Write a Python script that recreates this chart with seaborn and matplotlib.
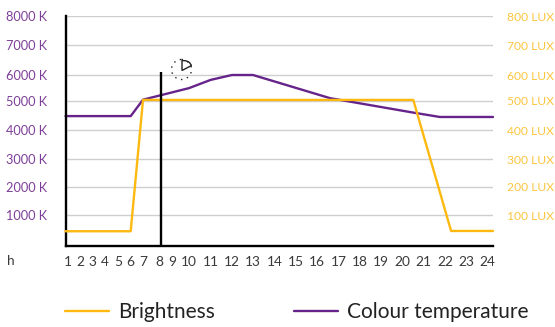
import numpy as np
import pandas as pd
import matplotlib
matplotlib.use('Agg')
import matplotlib.pyplot as plt
import seaborn as sns
from matplotlib.patches import Circle, Polygon
from matplotlib.transforms import Affine2D

# Values
hours = list(range(1, 25))
kelvin_ticks = [1000, 2000, 3000, 4000, 5000, 6000, 7000, 8000]
lux_ticks = [100, 200, 300, 400, 500, 600, 700, 800]

brightness_hours = [0.75, 6, 7, 20.52, 22.29, 24.3]
brightness_lux = [43, 43, 503, 503, 44, 44]

colour_hours = [0.75, 6, 7, 10, 11, 12, 13, 16.6, 20.5, 21.76, 24.3]
colour_kelvin = [4480, 4480, 5040, 5495, 5820, 6010, 6010, 5100, 4600, 4450, 4450]

now_hour = 8.14
now_top = 6100

W, H = 555, 327
LEFT, RIGHT, TOP, BOTTOM = 65.5, 493, 16.3, 246

# the source lays hours and gridlines out unevenly, so the axes follow that layout
x_anchor_hours = [0.75] + hours + [24.3]
x_anchor_px = [65.5, 68, 80, 92.7, 105, 118, 130.7, 143, 159.5, 172, 189, 210.7, 232, 253,
               275, 296, 317, 338.7, 360, 381, 402, 423.7, 445, 466, 487, 493]
y_anchor_px = [246, 243.5, 215, 186.7, 159, 130.3, 100.7, 75.3, 45.3, 16.3]
y_anchor_up = [BOTTOM - p for p in y_anchor_px]
kelvin_anchor = [-90, 0] + kelvin_ticks
lux_anchor = [-9, 0] + lux_ticks


def anchored(values, pixels):
    return (lambda v: np.interp(v, values, pixels),
            lambda p: np.interp(p, pixels, values))


YELLOW = '#fdb90f'
PURPLE = '#66248a'

sns.set_theme(style='white')
plt.rcParams['font.family'] = ['Lato', 'DejaVu Sans']

fig = plt.figure(figsize=(W / 100, H / 100), dpi=100)
ax = fig.add_axes([LEFT / W, 1 - BOTTOM / H, (RIGHT - LEFT) / W, (BOTTOM - TOP) / H])
ax2 = ax.twinx()

ax.set_xscale('function', functions=anchored(x_anchor_hours, x_anchor_px))
ax.set_yscale('function', functions=anchored(kelvin_anchor, y_anchor_up))
ax2.set_yscale('function', functions=anchored(lux_anchor, y_anchor_up))

colour_df = pd.DataFrame({'hour': colour_hours, 'kelvin': colour_kelvin})
brightness_df = pd.DataFrame({'hour': brightness_hours, 'lux': brightness_lux})
sns.lineplot(data=colour_df, x='hour', y='kelvin', ax=ax, color=PURPLE, lw=1.7,
             estimator=None, legend=False, clip_on=False)
sns.lineplot(data=brightness_df, x='hour', y='lux', ax=ax2, color=YELLOW, lw=1.7,
             estimator=None, legend=False, clip_on=False)
ax2.plot([now_hour, now_hour], [-9, now_top / 10], color='black', lw=1.7,
         solid_capstyle='butt', zorder=5)

ax.set_xlim(0.75, 24.3)
ax.set_ylim(-90, 8000)
ax2.set_ylim(-9, 800)

ax.set_xticks(hours)
ax.set_xticklabels(hours)
ax.set_yticks(kelvin_ticks)
ax.set_yticklabels([f'{k} K' for k in kelvin_ticks])
ax2.set_yticks(lux_ticks)
ax2.set_yticklabels([f'{v} LUX' for v in lux_ticks])
ax.minorticks_off()
ax2.minorticks_off()

ax.set_xlabel('')
ax.set_ylabel('')
ax2.set_ylabel('')
ax.tick_params(axis='x', length=0, pad=7.2, labelsize=9.9, labelcolor='#3a3a3a')
ax.tick_params(axis='y', length=0, pad=13, labelsize=9.2, labelcolor='#7d3f98')
ax2.tick_params(axis='y', length=0, pad=10, labelsize=8.7, labelcolor='#fdc640')

ax.grid(True, axis='y', color='#cfcfcf', lw=1)
ax.grid(False, axis='x')
ax2.grid(False)

for a in (ax, ax2):
    for side in ('top', 'right'):
        a.spines[side].set_visible(False)
    a.spines['left'].set_visible(a is ax)
    a.spines['bottom'].set_visible(a is ax)
ax.spines['left'].set_color('black')
ax.spines['left'].set_linewidth(1.7)
ax.spines['bottom'].set_color('black')
ax.spines['bottom'].set_linewidth(1.7)

# picture pixels, y pointing down
px = Affine2D().scale(1 / W, -1 / H).translate(0, 1) + fig.transFigure

fig.text(11, 261, 'h', transform=px, ha='center', va='center', fontsize=9.9, color='#3a3a3a')

# clock icon above the current hour
fig.add_artist(Circle((181.5, 69.5), 10, transform=px, fill=False, ec='#222222', lw=1,
                      ls=(0, (1, 3.4))))
fig.add_artist(Polygon([(182, 60.5), (186, 60.8), (189.5, 62.5), (191.5, 65.5), (182, 70.5)],
                       closed=True, transform=px, fill=False, ec='#222222', lw=1))

handles = [plt.Line2D([], [], color=YELLOW, lw=1.7), plt.Line2D([], [], color=PURPLE, lw=1.7)]
fig.legend(handles, ['Brightness', 'Colour temperature'], ncols=2, frameon=False,
           loc='center left', bbox_to_anchor=(65 / W, 1 - 312 / H), borderaxespad=0, borderpad=0,
           fontsize=15, labelcolor='#222222', handlelength=2.11, handletextpad=0.43,
           columnspacing=3.8)

fig.savefig('out.png', dpi=100)
plt.close(fig)
